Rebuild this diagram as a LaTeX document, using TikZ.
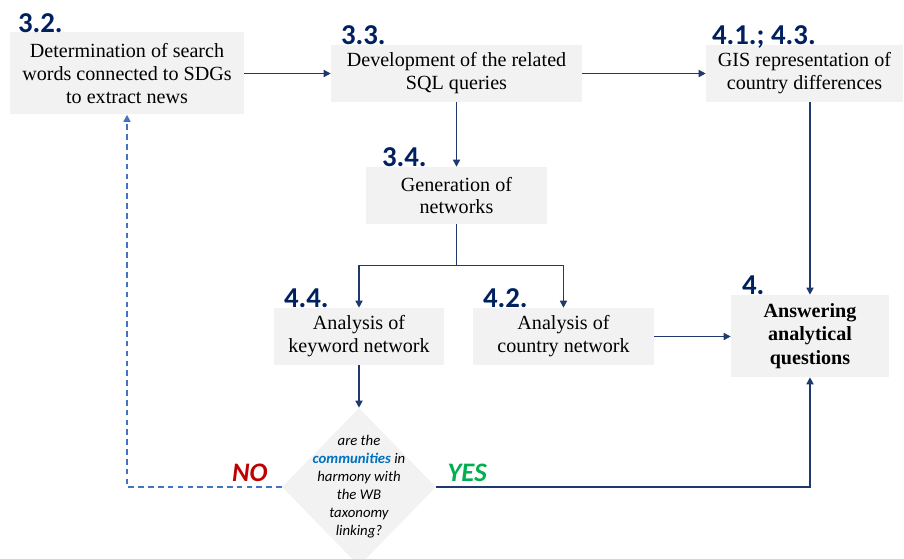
\documentclass[tikz,border=0pt]{standalone}
\usepackage{fontspec}
\setmainfont{Liberation Serif}
\newfontfamily\labelfont{Carlito}
\usetikzlibrary{shapes.geometric, arrows.meta, positioning}
\definecolor{boxgray}{RGB}{242,242,242}
\definecolor{navy}{RGB}{0,32,96}
\definecolor{linkblue}{RGB}{31,56,110}
\definecolor{dashblue}{RGB}{68,114,196}
\definecolor{nored}{RGB}{192,0,0}
\definecolor{yesgreen}{RGB}{0,176,80}
\definecolor{commblue}{RGB}{0,112,192}

\begin{document}
\begin{tikzpicture}[
    stepbox/.style={rectangle, fill=boxgray, inner sep=0pt, align=center, font=\fontsize{14.3}{16.3}\selectfont},
    steplabel/.style={anchor=base west, inner sep=0pt, text=navy, font=\labelfont\bfseries\fontsize{20.5}{22}\selectfont},
    answerlabel/.style={anchor=base, inner sep=0pt, font=\labelfont\bfseries\itshape\fontsize{19}{21}\selectfont},
    link/.style={draw=linkblue, line width=1.1pt, -{Triangle[length=5pt,width=5pt]}},
    dashlink/.style={draw=dashblue, line width=1pt, dash pattern=on 4pt off 3pt, -{Triangle[length=5pt,width=5pt]}}
]
    \useasboundingbox (0,0) rectangle (22.6,-13.975);

    % boxes
    \node[stepbox, minimum width=5.85cm, minimum height=2.05cm] (search) at (3.175,-1.8375) {Determination of search\\words connected to SDGs\\to extract news};
    \node[stepbox, minimum width=6.275cm, minimum height=1.425cm] (sql) at (11.4125,-1.8375) {Development of the related\\SQL queries};
    \node[stepbox, minimum width=4.925cm, minimum height=1.425cm] (gis) at (20.1125,-1.8375) {GIS representation of\\country differences};
    \node[stepbox, minimum width=4.525cm, minimum height=1.425cm] (gen) at (11.4125,-4.8875) {Generation of\\networks};
    \node[stepbox, minimum width=4.25cm, minimum height=1.425cm] (keyw) at (8.975,-8.4125) {Analysis of\\keyword network};
    \node[stepbox, minimum width=4.525cm, minimum height=1.425cm] (ctry) at (14.0875,-8.4125) {Analysis of\\country network};
    \node[stepbox, minimum width=3.95cm, minimum height=2.05cm, font=\bfseries\fontsize{14.3}{16.8}\selectfont] (answer) at (20.25,-8.4) {Answering\\analytical\\questions};
    \node[diamond, fill=boxgray, inner sep=0pt, minimum width=3.85cm, minimum height=3.95cm] (check) at (8.975,-12.175) {};
    \node[align=center, inner sep=0pt, font=\labelfont\itshape\fontsize{10.5}{12.8}\selectfont] (checktext) at (check.center) {are the\\\textcolor{commblue}{\textbf{communities}} in\\harmony with\\the WB\\taxonomy\\linking?};

    % step numbers
    \node[steplabel] (l32) at ([xshift=0.2cm]search.north west) {3.2.};
    \node[steplabel] (l33) at ([xshift=0.25cm]sql.north west) {3.3.};
    \node[steplabel] (l41) at ([xshift=0.15cm]gis.north west) {4.1.; 4.3.};
    \node[steplabel] (l34) at ([xshift=0.4cm]gen.north west) {3.4.};
    \node[steplabel] (l44) at ([xshift=0.25cm]keyw.north west) {4.4.};
    \node[steplabel] (l42) at ([xshift=0.25cm]ctry.north west) {4.2.};
    \node[steplabel] (l4) at ([xshift=0.275cm]answer.north west) {4.};

    % connectors
    \draw[link] (search) -- (sql);
    \draw[link] (sql) -- (gis);
    \draw[link] (sql) -- (gen);
    \draw[link] (gen.south) -- ++(0,-1.025) -| (keyw.north);
    \draw[link] (gen.south) -- ++(0,-1.025) -| (ctry.north);
    \draw[link] (ctry.east) -- (ctry.east -| answer.west);
    \draw[link] (gis.south -| answer.north) -- (answer.north);
    \draw[link] (keyw) -- (check);
    \draw[link] (check.east) -| (answer.south);
    \draw[dashlink] (check.west) -| (search.south);

    \node[answerlabel, anchor=base east, text=nored] (no) at ([xshift=-0.35cm, yshift=0.13cm]check.west) {NO};
    \node[answerlabel, anchor=base west, text=yesgreen] (yes) at ([xshift=0.275cm, yshift=0.13cm]check.east) {YES};
\end{tikzpicture}
\end{document}
